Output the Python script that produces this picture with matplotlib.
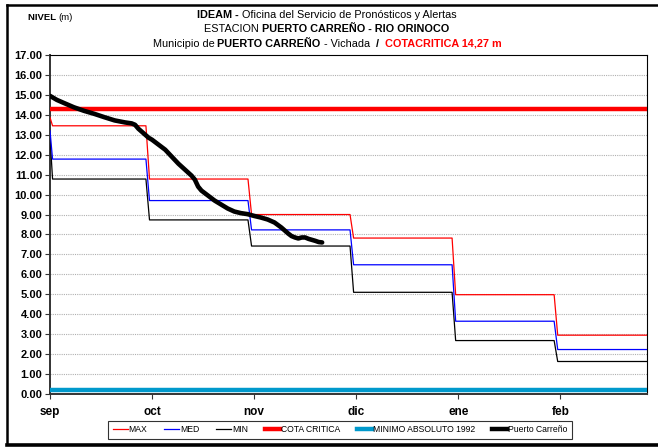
import matplotlib
matplotlib.use("Agg")
import matplotlib.pyplot as plt
from matplotlib.lines import Line2D
import numpy as np

plt.rcParams['font.family'] = ['Liberation Sans Narrow', 'Liberation Sans', 'DejaVu Sans']

# ---- data -------------------------------------------------------------
month_labels = ["sep", "oct", "nov", "dic", "ene", "feb"]
month_days = [30, 31, 30, 31, 31, 28]

# monthly historic levels (m); first value is the level at the season start
max_start, max_levels = 13.87, [13.45, 10.78, 9.00, 7.82, 4.98, 2.95]
med_start, med_levels = 13.20, [11.78, 9.70, 8.23, 6.48, 3.65, 2.23]
min_start, min_levels = 12.90, [10.78, 8.73, 7.42, 5.10, 2.68, 1.63]

cota_critica = 14.27
minimo_1992 = 0.20

# observed level at Puerto Carreño, day counted from 1 September
obs_day = [0, 2, 4, 7, 10, 13, 16, 19, 22, 24, 25, 26, 28, 29, 30, 32, 34, 36,
           38, 40, 42, 43, 44, 45, 47, 49, 51, 53, 55, 57, 59, 61, 63, 65, 67,
           69, 71, 72, 73, 74, 75, 76, 77, 78, 79, 80, 81]
obs_level = [14.95, 14.75, 14.60, 14.38, 14.20, 14.05, 13.88, 13.72, 13.62,
             13.57, 13.50, 13.30, 13.00, 12.85, 12.75, 12.50, 12.25, 11.90,
             11.55, 11.25, 10.95, 10.75, 10.40, 10.20, 9.95, 9.70, 9.50, 9.30,
             9.15, 9.07, 9.02, 8.93, 8.85, 8.75, 8.60, 8.35, 8.05, 7.92, 7.85,
             7.80, 7.85, 7.85, 7.78, 7.73, 7.68, 7.62, 7.60]

X_END = 5.85


def step_path(start, levels):
    xs, ys = [0.0, 0.025], [start, levels[0]]
    for m in range(1, len(levels)):
        xs += [m - 0.06, m - 0.025]
        ys += [levels[m - 1], levels[m]]
    xs.append(X_END)
    ys.append(levels[-1])
    return xs, ys


def day_to_month(d):
    starts = np.cumsum([0] + month_days)
    m = np.searchsorted(starts, d, side="right") - 1
    return m + (d - starts[m]) / month_days[m]


fig = plt.figure(figsize=(6.58, 4.47), dpi=100)
W, H = 658, 447
ax = fig.add_axes([50 / W, 1 - 394 / H, 597 / W, 339 / H])

for y in range(1, 17):
    ax.axhline(y, color="#b0b0b0", lw=0.8, ls=(0, (1, 1)), zorder=1)

ax.plot([0, X_END], [minimo_1992] * 2, color="#0099cc", lw=3.2, zorder=3)
ax.plot([0, X_END], [cota_critica] * 2, color="#ff0000", lw=3.2, zorder=3)

for (s, lv), col in [((min_start, min_levels), "#000000"),
                     ((med_start, med_levels), "#0000ff"),
                     ((max_start, max_levels), "#ff0000")]:
    xs, ys = step_path(s, lv)
    ax.plot(xs, ys, color=col, lw=0.9, zorder=4)

ax.plot([day_to_month(d) for d in obs_day], obs_level, color="black",
        lw=3.3, solid_capstyle="round", zorder=5)

ax.set_xlim(0, X_END)
ax.set_ylim(0, 17)
ax.set_yticks(range(0, 18))
ax.set_yticklabels([f"{v:.2f}" for v in range(0, 18)], fontsize=8,
                   fontweight="bold")
ax.set_xticks(range(len(month_labels)))
ax.set_xticklabels(month_labels, fontsize=8.5, fontweight="bold")
ax.tick_params(axis="both", direction="out", length=3.5, width=0.8,
               color="#333333")
ax.tick_params(axis="y", pad=2)
ax.tick_params(axis="x", pad=5)
for side in ["left", "bottom"]:
    ax.spines[side].set_linewidth(1.4)
    ax.spines[side].set_color("#333333")
for side in ["top", "right"]:
    ax.spines[side].set_linewidth(0.8)
    ax.spines[side].set_color("#000000")

# ---- title block -------------------------------------------------------
renderer = fig.canvas.get_renderer()


def draw_segments(cx, y, segments, size=7.8):
    widths = []
    for txt, weight, col in segments:
        t = fig.text(0, 0, txt, fontsize=size, fontweight=weight)
        bb = t.get_window_extent(renderer)
        widths.append(bb.width)
        t.remove()
    x = cx - sum(widths) / 2
    for (txt, weight, col), w in zip(segments, widths):
        fig.text(x / W, 1 - y / H, txt, fontsize=size, fontweight=weight,
                 color=col, va="center", ha="left")
        x += w


draw_segments(327, 15, [("IDEAM - ", "bold", "black"),
                        ("Oficina del Servicio de Pronósticos y Alertas",
                         "normal", "black")])
draw_segments(327, 29.5, [("ESTACION ", "normal", "black"),
                          ("PUERTO CARREÑO - RIO ORINOCO", "bold", "black")])
draw_segments(327, 44, [("Municipio de ", "normal", "black"),
                        ("PUERTO CARREÑO", "bold", "black"),
                        (" - Vichada  ", "normal", "black"),
                        ("/  ", "bold", "black"),
                        ("COTACRITICA 14,27 m", "bold", "#ff0000")])
draw_segments(50, 17, [("NIVEL ", "bold", "black"),
                       ("(m)", "normal", "black")], size=6.8)

# ---- legend -------------------------------------------------------------
handles = [
    Line2D([], [], color="#ff0000", lw=0.9),
    Line2D([], [], color="#0000ff", lw=0.9),
    Line2D([], [], color="#000000", lw=0.9),
    Line2D([], [], color="#ff0000", lw=3.2),
    Line2D([], [], color="#0099cc", lw=3.2),
    Line2D([], [], color="#000000", lw=3.2),
]
names = ["MAX", "MED", "MIN", "COTA CRITICA", "MINIMO ABSOLUTO 1992",
         "Puerto Carreño"]
leg = fig.legend(handles, names, loc="center", ncol=6,
                 bbox_to_anchor=(340 / W, 1 - 430 / H), fontsize=6.2,
                 frameon=True, fancybox=False, handlelength=1.7,
                 handletextpad=0.1, columnspacing=2.0, borderpad=0.55,
                 borderaxespad=0)
leg.get_frame().set_edgecolor("black")
leg.get_frame().set_linewidth(0.8)

# ---- outer frame ---------------------------------------------------------
fig.add_artist(Line2D([7 / W, 7 / W], [1 - 5 / H, 1 - 444 / H],
                      transform=fig.transFigure, color="black", lw=1.8))
fig.add_artist(Line2D([7 / W, 1], [1 - 5 / H, 1 - 5 / H],
                      transform=fig.transFigure, color="black", lw=1.8))
fig.add_artist(Line2D([7 / W, 1], [1 - 444.5 / H, 1 - 444.5 / H],
                      transform=fig.transFigure, color="black", lw=2.6))

fig.savefig("out.png", dpi=100)
